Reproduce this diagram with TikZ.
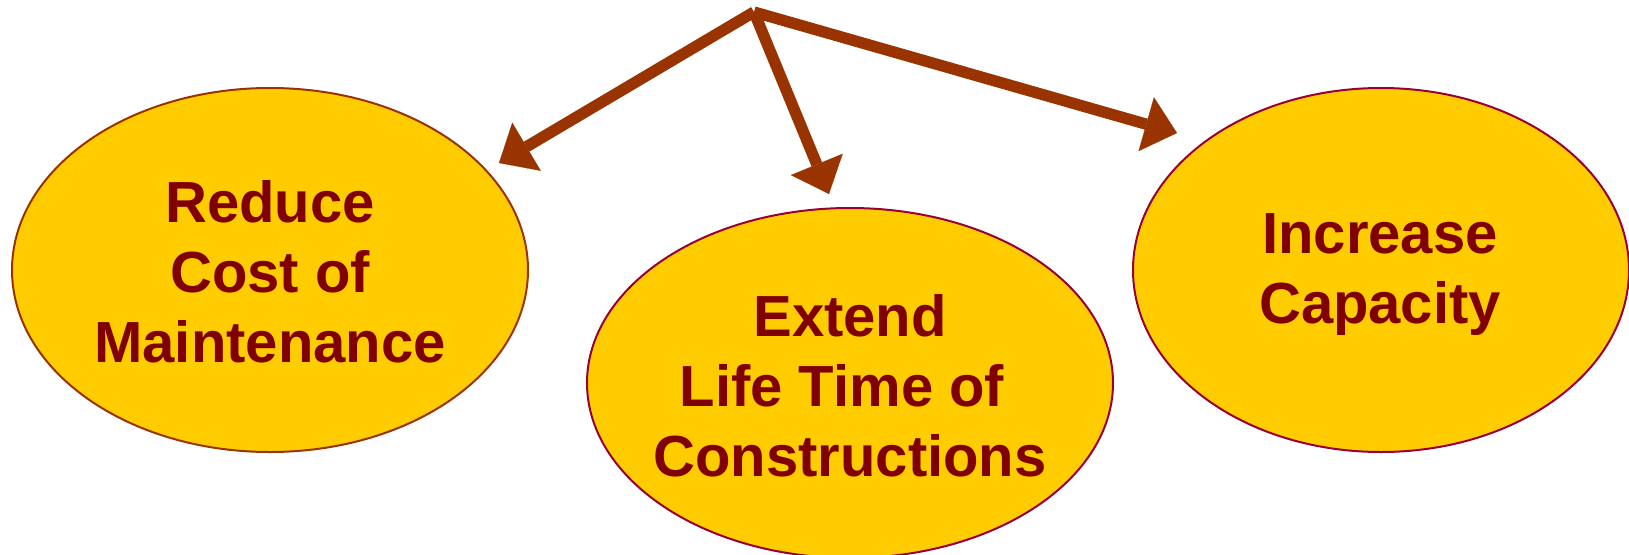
\documentclass[tikz,border=0pt]{standalone}
\usepackage{fontspec}
\setmainfont{Liberation Sans}
\usetikzlibrary{shapes.geometric,arrows.meta}

\definecolor{rust}{RGB}{153,51,0}
\definecolor{crimsonline}{RGB}{153,0,51}
\definecolor{goldfill}{RGB}{255,204,0}
\definecolor{maroontext}{RGB}{128,0,0}

\tikzset{every picture/.style={line width=0.75pt}}

\begin{document}
\begin{tikzpicture}[x=0.75pt,y=0.75pt,yscale=-1,xscale=1,
    goal/.style={ellipse, draw=crimsonline, fill=goldfill, line width=1.5pt, inner sep=0pt},
    goaltext/.style={text=maroontext, align=center, font=\bfseries\fontsize{43.5}{52.5}\selectfont, inner sep=0pt},
    branch/.style={draw=rust, line width=8.5pt, -{Triangle[length=24pt,width=42pt,line width=0.1pt]}}]
        \useasboundingbox (0,0) rectangle (1629,554);

        %Shape: Ellipse
        \node [goal, draw=rust, minimum width=387pt, minimum height=273pt] (reduce) at (270,270) {};
        \node [goaltext] (reduce text) at (270,272) {Reduce\\Cost of\\Maintenance};
        %Shape: Ellipse
        \node [goal, minimum width=394.5pt, minimum height=262.5pt] (extend) at (850,383) {};
        \node [goaltext] (extend text) at (850,386) {Extend\\Life Time of\ \mbox{}\\Constructions};
        %Shape: Ellipse
        \node [goal, minimum width=372pt, minimum height=273pt] (increase) at (1381,270) {};
        \node [goaltext] (increase text) at (1380,275) {Increase\\Capacity};

        %Straight Lines
        \coordinate (hub) at (754,12);
        \coordinate (reduce tip) at (499,163);
        \coordinate (extend tip) at (829,194);
        \coordinate (increase tip) at (1177,133);
        \draw [branch] (hub) -- (reduce tip);
        \draw [branch] (hub) -- (extend tip);
        \draw [branch] (hub) -- (increase tip);
\end{tikzpicture}
\end{document}
